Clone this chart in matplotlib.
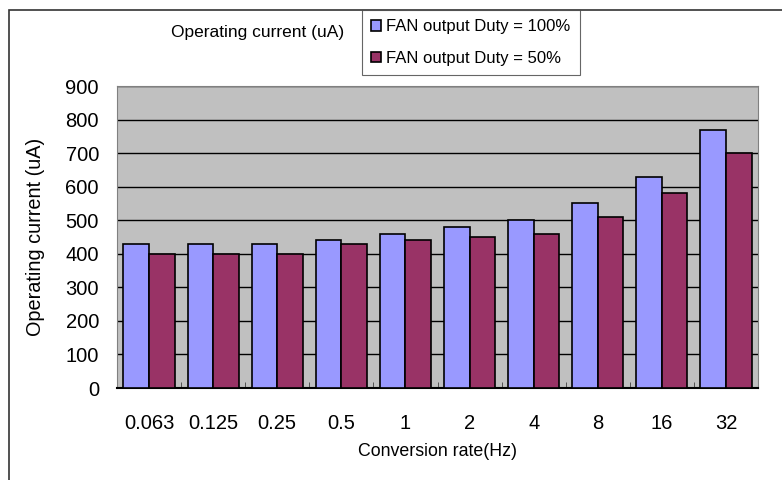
import matplotlib.pyplot as plt
import numpy as np
from matplotlib.patches import Rectangle

plt.rcParams['font.family'] = ['Liberation Sans', 'DejaVu Sans']

rates = ["0.063", "0.125", "0.25", "0.5", "1", "2", "4", "8", "16", "32"]
duty_100 = [430, 430, 430, 440, 460, 480, 500, 550, 630, 770]
duty_50 = [400, 400, 400, 430, 440, 450, 460, 510, 580, 700]

W, H = 782, 480
fig = plt.figure(figsize=(W / 100, H / 100), dpi=100)

# outer chart frame (runs off the right/bottom edge)
fig.patches.append(Rectangle((9 / W, -0.05), 1.1, 1 - 10 / H + 0.05,
                             transform=fig.transFigure, fill=False,
                             edgecolor='#333333', linewidth=1.2))

ax = fig.add_axes([117 / W, 1 - 388 / H, (758 - 117) / W, (388 - 86) / H])
ax.set_facecolor('#C0C0C0')

x = np.arange(len(rates))
w = 0.4
b1 = ax.bar(x - w / 2, duty_100, w, color='#9999FF', edgecolor='black',
            linewidth=1.2, label='FAN output Duty = 100%', zorder=3)
b2 = ax.bar(x + w / 2, duty_50, w, color='#993366', edgecolor='black',
            linewidth=1.2, label='FAN output Duty = 50%', zorder=3)

ax.set_xlim(-0.5, len(rates) - 0.5)
ax.set_ylim(0, 900)
ax.set_yticks(range(0, 901, 100))
ax.yaxis.grid(True, color='black', linewidth=1, zorder=0)
ax.set_axisbelow(True)

ax.set_xticks(np.arange(len(rates) + 1) - 0.5, minor=True)
ax.set_xticks(x)
ax.set_xticklabels(rates)
ax.tick_params(axis='x', which='major', length=0, pad=19, labelsize=14.5)
ax.tick_params(axis='x', which='minor', length=4, direction='in', color='#404040')
ax.tick_params(axis='y', length=0, pad=13, labelsize=14.5)

for side in ['left', 'top', 'right']:
    ax.spines[side].set_color('#808080')
ax.spines['bottom'].set_color('black')
ax.spines['bottom'].set_linewidth(1.5)

ax.set_ylabel('Operating current (uA)', fontsize=14.3, va='center')
ax.yaxis.set_label_coords((35 - 117) / 641, 0.5)
ax.set_xlabel('Conversion rate(Hz)', fontsize=12.8, va='center')
ax.xaxis.set_label_coords(0.5, (388 - 452) / 302)

fig.text(258 / W, 1 - 33 / H, 'Operating current (uA)', fontsize=12.5,
         ha='center', va='center')

leg = fig.legend(handles=[b1, b2], loc='upper left',
                 bbox_to_anchor=(362 / W, 1 - 10 / H), fontsize=12,
                 frameon=True, fancybox=False, edgecolor='#404040',
                 handlelength=0.6, handleheight=0.6, handletextpad=0.3,
                 borderpad=0.55, labelspacing=1.0, borderaxespad=0)
leg.get_frame().set_linewidth(0.8)

fig.savefig('out.png', dpi=100)
